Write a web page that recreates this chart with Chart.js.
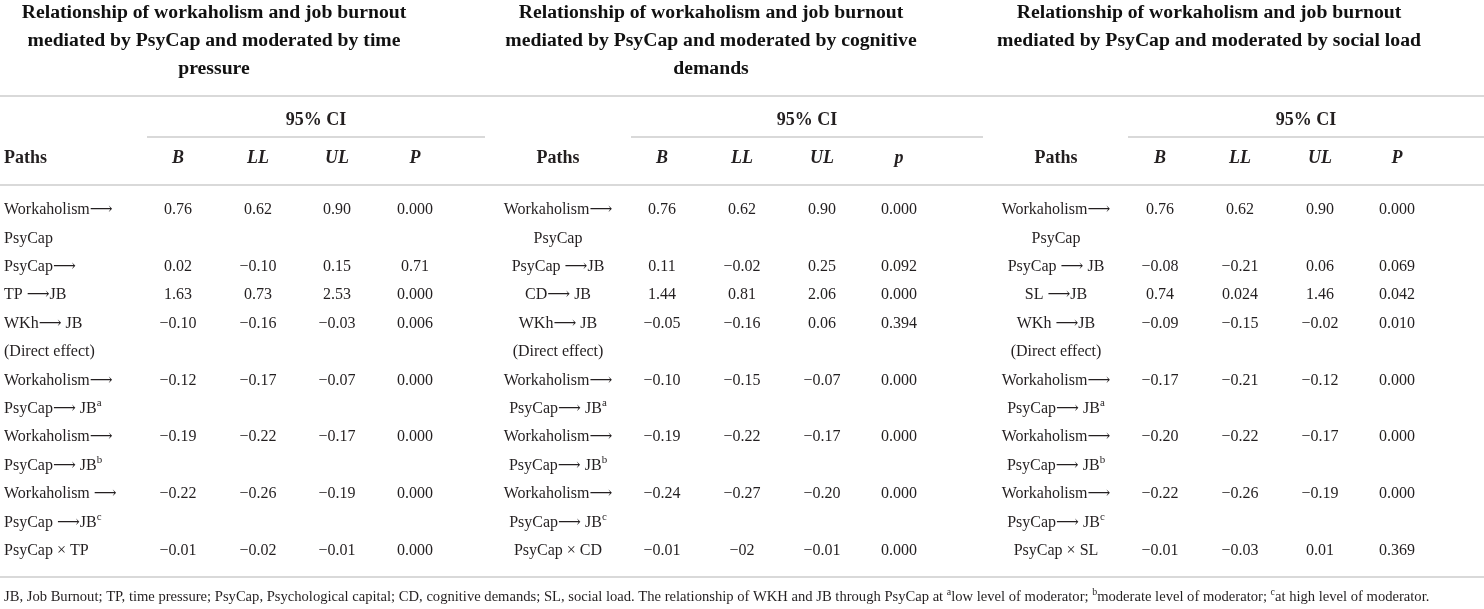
<!DOCTYPE html>
<html>
<head>
<meta charset="utf-8">
<script src="https://cdn.jsdelivr.net/npm/chart.js@4.4.1/dist/chart.umd.min.js"></script>
<style>
  html, body { margin: 0; padding: 0; background: #fff; }
  #wrap { width: 1484px; height: 609px; position: relative; }
</style>
</head>
<body>
<div id="wrap"><canvas id="tbl"></canvas></div>
<script>
// table content, one small array per column of each panel
// {a} marks a superscript letter
const titles = [
  ['Relationship of workaholism and job burnout', 'mediated by PsyCap and moderated by time', 'pressure'],
  ['Relationship of workaholism and job burnout', 'mediated by PsyCap and moderated by cognitive', 'demands'],
  ['Relationship of workaholism and job burnout', 'mediated by PsyCap and moderated by social load']
]
const headers = [['Paths', 'B', 'LL', 'UL', 'P'], ['Paths', 'B', 'LL', 'UL', 'p'], ['Paths', 'B', 'LL', 'UL', 'P']]
const ciLabel = '95% CI'

const pathsTP = ['Workaholism⟶', 'PsyCap', 'PsyCap⟶', 'TP ⟶JB', 'WKh⟶ JB', '(Direct effect)', 'Workaholism⟶', 'PsyCap⟶ JB{a}', 'Workaholism⟶', 'PsyCap⟶ JB{b}', 'Workaholism ⟶', 'PsyCap ⟶JB{c}', 'PsyCap × TP']
const bTP = ['0.76', '', '0.02', '1.63', '−0.10', '', '−0.12', '', '−0.19', '', '−0.22', '', '−0.01']
const llTP = ['0.62', '', '−0.10', '0.73', '−0.16', '', '−0.17', '', '−0.22', '', '−0.26', '', '−0.02']
const ulTP = ['0.90', '', '0.15', '2.53', '−0.03', '', '−0.07', '', '−0.17', '', '−0.19', '', '−0.01']
const pTP = ['0.000', '', '0.71', '0.000', '0.006', '', '0.000', '', '0.000', '', '0.000', '', '0.000']

const pathsCD = ['Workaholism⟶', 'PsyCap', 'PsyCap ⟶JB', 'CD⟶ JB', 'WKh⟶ JB', '(Direct effect)', 'Workaholism⟶', 'PsyCap⟶ JB{a}', 'Workaholism⟶', 'PsyCap⟶ JB{b}', 'Workaholism⟶', 'PsyCap⟶ JB{c}', 'PsyCap × CD']
const bCD = ['0.76', '', '0.11', '1.44', '−0.05', '', '−0.10', '', '−0.19', '', '−0.24', '', '−0.01']
const llCD = ['0.62', '', '−0.02', '0.81', '−0.16', '', '−0.15', '', '−0.22', '', '−0.27', '', '−02']
const ulCD = ['0.90', '', '0.25', '2.06', '0.06', '', '−0.07', '', '−0.17', '', '−0.20', '', '−0.01']
const pCD = ['0.000', '', '0.092', '0.000', '0.394', '', '0.000', '', '0.000', '', '0.000', '', '0.000']

const pathsSL = ['Workaholism⟶', 'PsyCap', 'PsyCap ⟶ JB', 'SL ⟶JB', 'WKh ⟶JB', '(Direct effect)', 'Workaholism⟶', 'PsyCap⟶ JB{a}', 'Workaholism⟶', 'PsyCap⟶ JB{b}', 'Workaholism⟶', 'PsyCap⟶ JB{c}', 'PsyCap × SL']
const bSL = ['0.76', '', '−0.08', '0.74', '−0.09', '', '−0.17', '', '−0.20', '', '−0.22', '', '−0.01']
const llSL = ['0.62', '', '−0.21', '0.024', '−0.15', '', '−0.21', '', '−0.22', '', '−0.26', '', '−0.03']
const ulSL = ['0.90', '', '0.06', '1.46', '−0.02', '', '−0.12', '', '−0.17', '', '−0.19', '', '0.01']
const pSL = ['0.000', '', '0.069', '0.042', '0.010', '', '0.000', '', '0.000', '', '0.000', '', '0.369']

const footnote = 'JB, Job Burnout; TP, time pressure; PsyCap, Psychological capital; CD, cognitive demands; SL, social load. The relationship of WKH and JB through PsyCap at {a}low level of moderator; {b}moderate level of moderator; {c}at high level of moderator.'

const panels = [
  [pathsTP, bTP, llTP, ulTP, pTP],
  [pathsCD, bCD, llCD, ulCD, pCD],
  [pathsSL, bSL, llSL, ulSL, pSL]
]

// layout (table units = pixels of the 1484 x 609 page)
const W = 1484, H = 609
const serif = '"Liberation Serif", "DejaVu Serif", serif'
const ink = '#231f20'
const pathsX = [4, 558, 1056]
const pathsAlign = ['left', 'center', 'center']
const numX = [[178, 258, 337, 415], [662, 742, 822, 899], [1160, 1240, 1320, 1397]]
const titleX = [214, 711, 1209]
const ciLine = [[147, 485], [631, 983], [1128, 1484]]
const rowTop = 210, rowStep = 28.4
const titleY = [13, 41, 69]
const ciY = 120, headY = 158
const rules = [96, 185, 577]
const footY = 597

const datasets = []
const addText = (points, texts, font, align, color) => {
  datasets.push({ data: points, texts, font, align, color: color || ink, pointRadius: 0, pointHoverRadius: 0, showLine: false })
}

panels.forEach((cols, p) => {
  addText(titles[p].map((t, i) => ({ x: titleX[p], y: titleY[i] })), titles[p], 'bold 19.7px ' + serif, 'center', '#111')
  addText([{ x: (ciLine[p][0] + ciLine[p][1]) / 2, y: ciY }], [ciLabel], 'bold 18px ' + serif, 'center')
  addText([{ x: pathsX[p], y: headY }], [headers[p][0]], 'bold 18px ' + serif, pathsAlign[p])
  addText(numX[p].map(x => ({ x, y: headY })), headers[p].slice(1), 'bold italic 18px ' + serif, 'center')
  cols.forEach((col, c) => {
    const keep = col.map((t, i) => i).filter(i => col[i] !== '')
    const x = c === 0 ? pathsX[p] : numX[p][c - 1]
    addText(keep.map(i => ({ x, y: rowTop + i * rowStep })), keep.map(i => col[i]), '16px ' + serif, c === 0 ? pathsAlign[p] : 'center')
  })
})
addText([{ x: 4, y: footY }], [footnote], '14.6px ' + serif, 'left')

// split "abc{a}def" into normal / superscript runs
const runs = (s) => s.split(/(\{\w\})/).filter(r => r).map(r => r[0] === '{' ? { t: r.slice(1, -1), sup: true } : { t: r, sup: false })

const tablePlugin = {
  id: 'tableText',
  afterDatasetsDraw (chart) {
    const ctx = chart.ctx
    const xs = chart.scales.x, ys = chart.scales.y
    ctx.save()
    // horizontal rules
    ctx.strokeStyle = '#cccccc'
    ctx.lineWidth = 1.5
    rules.forEach(y => {
      ctx.beginPath()
      ctx.moveTo(xs.getPixelForValue(0), ys.getPixelForValue(y))
      ctx.lineTo(xs.getPixelForValue(W), ys.getPixelForValue(y))
      ctx.stroke()
    })
    ciLine.forEach(([a, b]) => {
      ctx.beginPath()
      ctx.moveTo(xs.getPixelForValue(a), ys.getPixelForValue(137))
      ctx.lineTo(xs.getPixelForValue(b), ys.getPixelForValue(137))
      ctx.stroke()
    })
    // cell texts at each point the scales placed
    ctx.textBaseline = 'middle'
    chart.data.datasets.forEach((ds, di) => {
      const meta = chart.getDatasetMeta(di)
      const size = parseFloat(ds.font.match(/([\d.]+)px/)[1])
      const supFont = ds.font.replace(/([\d.]+)px/, (size * 0.68).toFixed(1) + 'px')
      meta.data.forEach((el, j) => {
        const parts = runs(ds.texts[j])
        let total = 0
        parts.forEach(r => { ctx.font = r.sup ? supFont : ds.font; r.w = ctx.measureText(r.t).width; total += r.w })
        let x = ds.align === 'center' ? el.x - total / 2 : el.x
        ctx.fillStyle = ds.color
        ctx.textAlign = 'left'
        parts.forEach(r => {
          ctx.font = r.sup ? supFont : ds.font
          ctx.fillText(r.t, x, r.sup ? el.y - size * 0.33 : el.y)
          x += r.w
        })
      })
    })
    ctx.restore()
  }
}

new Chart(document.getElementById('tbl'), {
  type: 'scatter',
  data: { datasets },
  options: {
    responsive: true,
    maintainAspectRatio: false,
    animation: false,
    events: [],
    layout: { padding: 0 },
    plugins: { legend: { display: false }, tooltip: { enabled: false } },
    scales: {
      x: { type: 'linear', min: 0, max: W, display: false },
      y: { type: 'linear', min: 0, max: H, reverse: true, display: false }
    }
  },
  plugins: [tablePlugin]
})
</script>
</body>
</html>
